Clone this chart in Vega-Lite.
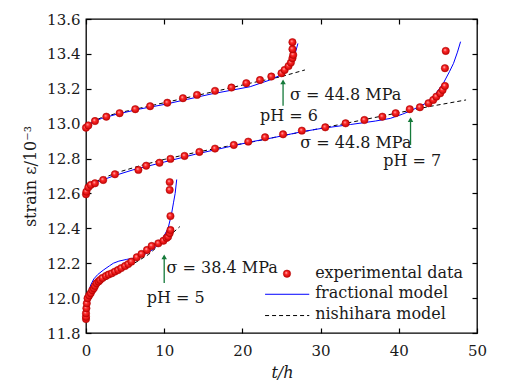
{
  "$schema": "https://vega.github.io/schema/vega-lite/v6.json",
  "width": 391,
  "height": 314,
  "autosize": {"type": "none"},
  "padding": {"left": 86, "top": 19, "right": 29, "bottom": 53},
  "background": "white",
  "config": {
    "view": {"stroke": "black", "strokeWidth": 1.3},
    "axis": {
      "domain": false, "grid": false, "ticks": true, "labelFlush": false,
      "labelFont": "DejaVu Serif", "labelFontSize": 15, "labelColor": "#1a1a1a",
      "titleFont": "DejaVu Serif", "titleFontSize": 16, "titleFontWeight": "normal", "titleColor": "#1a1a1a",
      "tickColor": "black", "tickSize": 5, "tickWidth": 1.2, "offset": -5
    }
  },
  "datasets": {
    "exp": [
      {"ph": "6", "t": 0, "v": 12.977}, {"ph": "6", "t": 0.3, "v": 12.99}, {"ph": "6", "t": 1.15, "v": 13.015},
      {"ph": "6", "t": 2.6, "v": 13.04}, {"ph": "6", "t": 4.3, "v": 13.06}, {"ph": "6", "t": 6.3, "v": 13.083},
      {"ph": "6", "t": 8.2, "v": 13.1}, {"ph": "6", "t": 10.4, "v": 13.12}, {"ph": "6", "t": 12.4, "v": 13.146},
      {"ph": "6", "t": 14.2, "v": 13.165}, {"ph": "6", "t": 16.5, "v": 13.188}, {"ph": "6", "t": 18.6, "v": 13.207},
      {"ph": "6", "t": 20.5, "v": 13.232}, {"ph": "6", "t": 22.25, "v": 13.25}, {"ph": "6", "t": 23.7, "v": 13.27},
      {"ph": "6", "t": 25.0, "v": 13.289}, {"ph": "6", "t": 25.4, "v": 13.308}, {"ph": "6", "t": 25.9, "v": 13.33},
      {"ph": "6", "t": 26.2, "v": 13.35}, {"ph": "6", "t": 26.4, "v": 13.375}, {"ph": "6", "t": 26.5, "v": 13.394},
      {"ph": "6", "t": 26.4, "v": 13.427}, {"ph": "6", "t": 26.4, "v": 13.467},
      {"ph": "7", "t": 0, "v": 12.595}, {"ph": "7", "t": 0.05, "v": 12.61}, {"ph": "7", "t": 0.3, "v": 12.635},
      {"ph": "7", "t": 0.6, "v": 12.649}, {"ph": "7", "t": 1.15, "v": 12.658}, {"ph": "7", "t": 2.2, "v": 12.677},
      {"ph": "7", "t": 3.7, "v": 12.71}, {"ph": "7", "t": 6.7, "v": 12.735}, {"ph": "7", "t": 7.7, "v": 12.759},
      {"ph": "7", "t": 9.4, "v": 12.776}, {"ph": "7", "t": 10.8, "v": 12.798}, {"ph": "7", "t": 12.6, "v": 12.815},
      {"ph": "7", "t": 14.5, "v": 12.838}, {"ph": "7", "t": 16.5, "v": 12.857}, {"ph": "7", "t": 18.9, "v": 12.878},
      {"ph": "7", "t": 20.75, "v": 12.897}, {"ph": "7", "t": 22.9, "v": 12.922}, {"ph": "7", "t": 25.2, "v": 12.939},
      {"ph": "7", "t": 27.6, "v": 12.96}, {"ph": "7", "t": 30.6, "v": 12.979}, {"ph": "7", "t": 33.2, "v": 13.002},
      {"ph": "7", "t": 35.6, "v": 13.021}, {"ph": "7", "t": 37.9, "v": 13.04}, {"ph": "7", "t": 39.6, "v": 13.06},
      {"ph": "7", "t": 41.4, "v": 13.083}, {"ph": "7", "t": 42.7, "v": 13.094}, {"ph": "7", "t": 43.8, "v": 13.117},
      {"ph": "7", "t": 44.4, "v": 13.136}, {"ph": "7", "t": 44.8, "v": 13.155}, {"ph": "7", "t": 45.3, "v": 13.174},
      {"ph": "7", "t": 45.6, "v": 13.193}, {"ph": "7", "t": 45.9, "v": 13.216}, {"ph": "7", "t": 45.9, "v": 13.318},
      {"ph": "7", "t": 46.0, "v": 13.417},
      {"ph": "5", "t": 0, "v": 11.88}, {"ph": "5", "t": 0, "v": 11.893}, {"ph": "5", "t": 0, "v": 11.913},
      {"ph": "5", "t": 0.05, "v": 11.942}, {"ph": "5", "t": 0.1, "v": 11.97}, {"ph": "5", "t": 0.2, "v": 11.999},
      {"ph": "5", "t": 0.4, "v": 12.015}, {"ph": "5", "t": 0.6, "v": 12.028}, {"ph": "5", "t": 0.8, "v": 12.045},
      {"ph": "5", "t": 1.0, "v": 12.056}, {"ph": "5", "t": 1.15, "v": 12.07}, {"ph": "5", "t": 1.35, "v": 12.085},
      {"ph": "5", "t": 1.6, "v": 12.095}, {"ph": "5", "t": 1.8, "v": 12.104}, {"ph": "5", "t": 2.1, "v": 12.115},
      {"ph": "5", "t": 2.55, "v": 12.127}, {"ph": "5", "t": 2.9, "v": 12.135}, {"ph": "5", "t": 3.3, "v": 12.142},
      {"ph": "5", "t": 3.7, "v": 12.152}, {"ph": "5", "t": 4.1, "v": 12.161}, {"ph": "5", "t": 4.5, "v": 12.172},
      {"ph": "5", "t": 5.0, "v": 12.184}, {"ph": "5", "t": 5.4, "v": 12.195}, {"ph": "5", "t": 5.8, "v": 12.209},
      {"ph": "5", "t": 6.5, "v": 12.234}, {"ph": "5", "t": 7.1, "v": 12.253}, {"ph": "5", "t": 7.8, "v": 12.276},
      {"ph": "5", "t": 8.4, "v": 12.299}, {"ph": "5", "t": 9.25, "v": 12.314}, {"ph": "5", "t": 9.9, "v": 12.329},
      {"ph": "5", "t": 10.3, "v": 12.345}, {"ph": "5", "t": 10.5, "v": 12.352}, {"ph": "5", "t": 10.7, "v": 12.372},
      {"ph": "5", "t": 10.8, "v": 12.39}, {"ph": "5", "t": 10.8, "v": 12.47}, {"ph": "5", "t": 10.7, "v": 12.62},
      {"ph": "5", "t": 10.7, "v": 12.665}
    ],
    "frac": [
      {"ph": "5", "t": 0, "v": 11.89}, {"ph": "5", "t": 0.1, "v": 11.96}, {"ph": "5", "t": 0.3, "v": 12.03},
      {"ph": "5", "t": 0.6, "v": 12.075}, {"ph": "5", "t": 1.0, "v": 12.11}, {"ph": "5", "t": 1.5, "v": 12.135},
      {"ph": "5", "t": 2.2, "v": 12.16}, {"ph": "5", "t": 3.0, "v": 12.185}, {"ph": "5", "t": 3.5, "v": 12.2},
      {"ph": "5", "t": 4.2, "v": 12.212}, {"ph": "5", "t": 5.2, "v": 12.222}, {"ph": "5", "t": 6.0, "v": 12.228},
      {"ph": "5", "t": 6.9, "v": 12.238}, {"ph": "5", "t": 7.8, "v": 12.258}, {"ph": "5", "t": 8.6, "v": 12.28},
      {"ph": "5", "t": 9.3, "v": 12.31}, {"ph": "5", "t": 9.9, "v": 12.35}, {"ph": "5", "t": 10.5, "v": 12.4},
      {"ph": "5", "t": 10.95, "v": 12.486}, {"ph": "5", "t": 11.2, "v": 12.55}, {"ph": "5", "t": 11.4, "v": 12.6},
      {"ph": "5", "t": 11.6, "v": 12.68},
      {"ph": "6", "t": 0, "v": 12.975}, {"ph": "6", "t": 0.3, "v": 12.995}, {"ph": "6", "t": 1, "v": 13.012},
      {"ph": "6", "t": 2, "v": 13.03}, {"ph": "6", "t": 4, "v": 13.055}, {"ph": "6", "t": 7, "v": 13.085},
      {"ph": "6", "t": 10, "v": 13.11}, {"ph": "6", "t": 13, "v": 13.14}, {"ph": "6", "t": 16, "v": 13.17},
      {"ph": "6", "t": 19, "v": 13.195}, {"ph": "6", "t": 21, "v": 13.212}, {"ph": "6", "t": 23.5, "v": 13.25},
      {"ph": "6", "t": 25.2, "v": 13.285}, {"ph": "6", "t": 26.1, "v": 13.327}, {"ph": "6", "t": 26.7, "v": 13.394},
      {"ph": "6", "t": 27.1, "v": 13.46},
      {"ph": "7", "t": 0, "v": 12.615}, {"ph": "7", "t": 0.3, "v": 12.635}, {"ph": "7", "t": 1, "v": 12.655},
      {"ph": "7", "t": 2, "v": 12.675}, {"ph": "7", "t": 3.5, "v": 12.7}, {"ph": "7", "t": 6, "v": 12.735},
      {"ph": "7", "t": 10, "v": 12.78}, {"ph": "7", "t": 14, "v": 12.825}, {"ph": "7", "t": 18, "v": 12.865},
      {"ph": "7", "t": 21, "v": 12.895}, {"ph": "7", "t": 24, "v": 12.92}, {"ph": "7", "t": 27.4, "v": 12.952},
      {"ph": "7", "t": 30, "v": 12.972}, {"ph": "7", "t": 33.8, "v": 12.995}, {"ph": "7", "t": 37, "v": 13.015},
      {"ph": "7", "t": 38.9, "v": 13.03}, {"ph": "7", "t": 40.5, "v": 13.055}, {"ph": "7", "t": 41.4, "v": 13.072},
      {"ph": "7", "t": 42.5, "v": 13.095}, {"ph": "7", "t": 43.6, "v": 13.12}, {"ph": "7", "t": 44.7, "v": 13.17},
      {"ph": "7", "t": 45.7, "v": 13.232}, {"ph": "7", "t": 46.5, "v": 13.3}, {"ph": "7", "t": 47.0, "v": 13.346},
      {"ph": "7", "t": 47.5, "v": 13.41}, {"ph": "7", "t": 47.9, "v": 13.47}
    ],
    "nish": [
      {"ph": "5", "t": 0, "v": 11.9}, {"ph": "5", "t": 0.2, "v": 11.97}, {"ph": "5", "t": 0.5, "v": 12.02},
      {"ph": "5", "t": 1.0, "v": 12.05}, {"ph": "5", "t": 1.5, "v": 12.07}, {"ph": "5", "t": 2.5, "v": 12.105},
      {"ph": "5", "t": 4, "v": 12.145}, {"ph": "5", "t": 6, "v": 12.195}, {"ph": "5", "t": 8, "v": 12.25},
      {"ph": "5", "t": 10, "v": 12.33}, {"ph": "5", "t": 12, "v": 12.41},
      {"ph": "6", "t": 0, "v": 12.985}, {"ph": "6", "t": 0.5, "v": 13.0}, {"ph": "6", "t": 1, "v": 13.015},
      {"ph": "6", "t": 2, "v": 13.035}, {"ph": "6", "t": 4, "v": 13.06}, {"ph": "6", "t": 7, "v": 13.09},
      {"ph": "6", "t": 10, "v": 13.12}, {"ph": "6", "t": 14, "v": 13.16}, {"ph": "6", "t": 18, "v": 13.2},
      {"ph": "6", "t": 21, "v": 13.232}, {"ph": "6", "t": 25, "v": 13.27}, {"ph": "6", "t": 28, "v": 13.308},
      {"ph": "7", "t": 0, "v": 12.61}, {"ph": "7", "t": 0.5, "v": 12.64}, {"ph": "7", "t": 1, "v": 12.66},
      {"ph": "7", "t": 2, "v": 12.685}, {"ph": "7", "t": 4, "v": 12.72}, {"ph": "7", "t": 7, "v": 12.76},
      {"ph": "7", "t": 10, "v": 12.795}, {"ph": "7", "t": 14, "v": 12.835}, {"ph": "7", "t": 18, "v": 12.87},
      {"ph": "7", "t": 21, "v": 12.893}, {"ph": "7", "t": 25, "v": 12.93}, {"ph": "7", "t": 30, "v": 12.973},
      {"ph": "7", "t": 35, "v": 13.018}, {"ph": "7", "t": 40, "v": 13.063}, {"ph": "7", "t": 44, "v": 13.099},
      {"ph": "7", "t": 48.6, "v": 13.136}
    ],
    "arrows": [
      {"t": 25.2, "v1": 13.102, "v2": 13.24},
      {"t": 41.5, "v1": 12.878, "v2": 13.023},
      {"t": 10.0, "v1": 12.087, "v2": 12.237}
    ],
    "labels": [
      {"t": 26.1, "v": 13.165, "text": "σ = 44.8 MPa"},
      {"t": 22.25, "v": 13.046, "text": "pH = 6"},
      {"t": 27.4, "v": 12.891, "text": "σ = 44.8 MPa"},
      {"t": 38.0, "v": 12.788, "text": "pH = 7"},
      {"t": 10.3, "v": 12.173, "text": "σ = 38.4 MPa"},
      {"t": 7.76, "v": 12.0, "text": "pH = 5"},
      {"t": 29.3, "v": 12.146, "text": "experimental data"},
      {"t": 29.3, "v": 12.028, "text": "fractional model"},
      {"t": 29.3, "v": 11.909, "text": "nishihara model"}
    ],
    "legpt": [{"t": 25.7, "v": 12.14}],
    "legfrac": [{"t": 22.9, "v": 12.022}, {"t": 28.55, "v": 12.022}],
    "legnish": [{"t": 22.9, "v": 11.9}, {"t": 28.55, "v": 11.9}]
  },
  "layer": [
    {
      "data": {"name": "nish"},
      "mark": {"type": "line", "color": "black", "strokeWidth": 1, "strokeDash": [4, 3]},
      "encoding": {
        "x": {"field": "t", "type": "quantitative", "scale": {"domain": [0, 50], "nice": false},
              "axis": {"orient": "top", "labels": false, "title": null, "values": [0, 10, 20, 30, 40, 50]}},
        "y": {"field": "v", "type": "quantitative", "scale": {"domain": [11.8, 13.6], "nice": false, "zero": false},
              "axis": {"orient": "right", "labels": false, "title": null, "values": [11.8, 12.0, 12.2, 12.4, 12.6, 12.8, 13.0, 13.2, 13.4, 13.6]}},
        "detail": {"field": "ph"}
      }
    },
    {
      "data": {"name": "frac"},
      "mark": {"type": "line", "color": "#0000ff", "strokeWidth": 1},
      "encoding": {
        "x": {"field": "t", "type": "quantitative", "axis": null},
        "y": {"field": "v", "type": "quantitative", "axis": null},
        "detail": {"field": "ph"}
      }
    },
    {
      "data": {"name": "exp"},
      "mark": {"type": "point", "shape": "circle", "filled": true, "size": 55, "opacity": 1,
               "fill": {"gradient": "radial", "x1": 0.38, "y1": 0.35, "r1": 0, "x2": 0.5, "y2": 0.5, "r2": 0.55,
                        "stops": [{"offset": 0, "color": "#ffd0d0"}, {"offset": 0.35, "color": "#ff2a2a"}, {"offset": 1, "color": "#c00000"}]},
               "stroke": "#b00000", "strokeWidth": 0.5},
      "encoding": {
        "x": {"field": "t", "type": "quantitative",
              "axis": {"orient": "bottom", "title": "t/h", "values": [0, 10, 20, 30, 40, 50], "labelPadding": 10,
                       "titleX": 196, "titleY": 44, "titleBaseline": "middle", "titleFontStyle": "italic"}},
        "y": {"field": "v", "type": "quantitative",
              "axis": {"orient": "left", "title": "strain ε/10⁻³", "format": ".1f", "labelPadding": 6,
                       "values": [11.8, 12.0, 12.2, 12.4, 12.6, 12.8, 13.0, 13.2, 13.4, 13.6],
                       "titleX": -61, "titleY": 157, "titleBaseline": "middle", "titleAlign": "center"}}
      }
    },
    {
      "data": {"name": "arrows"},
      "mark": {"type": "rule", "color": "#157a3a", "strokeWidth": 1.3},
      "encoding": {
        "x": {"field": "t", "type": "quantitative", "axis": null},
        "y": {"field": "v1", "type": "quantitative", "axis": null},
        "y2": {"field": "v2"}
      }
    },
    {
      "data": {"name": "arrows"},
      "mark": {"type": "point", "shape": "triangle-up", "filled": true, "size": 30, "color": "#157a3a", "opacity": 1},
      "encoding": {
        "x": {"field": "t", "type": "quantitative", "axis": null},
        "y": {"field": "v2", "type": "quantitative", "axis": null}
      }
    },
    {
      "data": {"name": "labels"},
      "mark": {"type": "text", "align": "left", "baseline": "middle", "font": "DejaVu Serif", "fontSize": 16, "color": "#1a1a1a"},
      "encoding": {
        "x": {"field": "t", "type": "quantitative", "axis": null},
        "y": {"field": "v", "type": "quantitative", "axis": null},
        "text": {"field": "text"}
      }
    },
    {
      "data": {"name": "legpt"},
      "mark": {"type": "point", "shape": "circle", "filled": true, "size": 55, "opacity": 1,
               "fill": {"gradient": "radial", "x1": 0.38, "y1": 0.35, "r1": 0, "x2": 0.5, "y2": 0.5, "r2": 0.55,
                        "stops": [{"offset": 0, "color": "#ffd0d0"}, {"offset": 0.35, "color": "#ff2a2a"}, {"offset": 1, "color": "#c00000"}]},
               "stroke": "#b00000", "strokeWidth": 0.5},
      "encoding": {
        "x": {"field": "t", "type": "quantitative", "axis": null},
        "y": {"field": "v", "type": "quantitative", "axis": null}
      }
    },
    {
      "data": {"name": "legfrac"},
      "mark": {"type": "line", "color": "#0000ff", "strokeWidth": 1},
      "encoding": {
        "x": {"field": "t", "type": "quantitative", "axis": null},
        "y": {"field": "v", "type": "quantitative", "axis": null}
      }
    },
    {
      "data": {"name": "legnish"},
      "mark": {"type": "line", "color": "black", "strokeWidth": 1, "strokeDash": [4, 3]},
      "encoding": {
        "x": {"field": "t", "type": "quantitative", "axis": null},
        "y": {"field": "v", "type": "quantitative", "axis": null}
      }
    }
  ],
  "resolve": {"axis": {"x": "independent", "y": "independent"}}
}
